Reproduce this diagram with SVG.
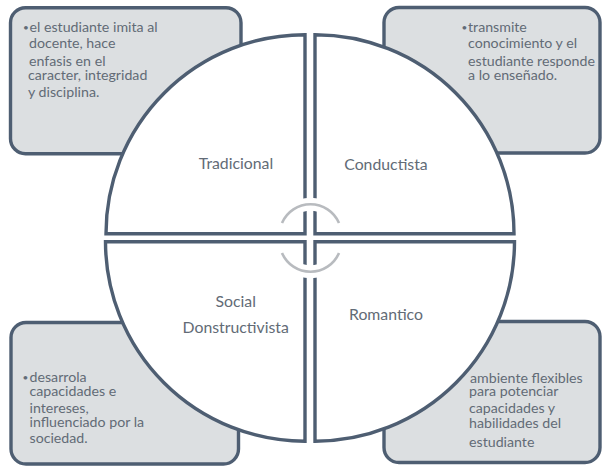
<svg xmlns="http://www.w3.org/2000/svg" width="603" height="468" viewBox="0 0 603 468">
<style>
.box{fill:#dcdfe1;stroke:#4e5e72;stroke-width:3.4}
.quad{fill:#ffffff;stroke:#4e5e72;stroke-width:3.4;stroke-linejoin:miter}
.txt{font-family:Lato,"Open Sans",sans-serif;font-size:14.2px;fill:#626b76}
.bul{font-size:10px}
.lbl{font-family:Lato,"Open Sans",sans-serif;font-size:15.8px;fill:#626b76;text-anchor:middle}
.band{fill:none;stroke:#ffffff;stroke-width:13}
.arc{fill:none;stroke:#b8bbbf;stroke-width:2.6}
</style>
<rect width="603" height="468" fill="#ffffff"/>
<g id="box-tradicional">
<rect class="box" x="10.5" y="7.7" width="230.5" height="146" rx="15"/>
<text class="txt"><tspan class="bul" x="23" y="30.5">•</tspan><tspan x="29.5" y="31.7">el estudiante imita al</tspan><tspan x="29" y="47.7">docente, hace</tspan><tspan x="29" y="65.7">enfasis en el</tspan><tspan x="28" y="80">caracter, integridad</tspan><tspan x="28" y="96.7">y disciplina.</tspan></text>
</g>
<g id="box-conductista">
<rect class="box" x="384" y="7.5" width="216" height="145.5" rx="15"/>
<text class="txt"><tspan class="bul" x="461.5" y="30.5">•</tspan><tspan x="468" y="31.7">transmite</tspan><tspan x="468" y="47.7">conocimiento y el</tspan><tspan x="468" y="65.7">estudiante responde</tspan><tspan x="468" y="80">a lo enseñado.</tspan></text>
</g>
<g id="box-social">
<rect class="box" x="11" y="322.5" width="227.5" height="141.5" rx="15"/>
<text class="txt"><tspan class="bul" x="22.5" y="380.5">•</tspan><tspan x="29.5" y="381.7">desarrola</tspan><tspan x="29.5" y="396">capacidades e</tspan><tspan x="29.5" y="412.7">intereses,</tspan><tspan x="29.5" y="426.7">influenciado por la</tspan><tspan x="29.5" y="442.7">sociedad.</tspan></text>
</g>
<g id="box-romantico">
<rect class="box" x="384" y="321.5" width="216" height="141" rx="15"/>
<text class="txt"><tspan x="470" y="382.7">ambiente flexibles</tspan><tspan x="469" y="396">para potenciar</tspan><tspan x="469" y="412.7">capacidades y</tspan><tspan x="469" y="428.3">habilidades del</tspan><tspan x="469" y="446.7">estudiante</tspan></text>
</g>
<g id="quad-tradicional">
<path class="quad" d="M305 233.7 H106 A199 199 0 0 1 305 34.7 Z"/>
<text class="lbl" x="236" y="169.3">Tradicional</text>
</g>
<g id="quad-conductista">
<path class="quad" d="M315 233.7 V34.7 A199 199 0 0 1 514 233.7 Z"/>
<text class="lbl" x="386" y="170">Conductista</text>
</g>
<g id="quad-social">
<path class="quad" d="M305 241.7 V441.2 A199.5 199.5 0 0 1 105.5 241.7 Z"/>
<text class="lbl" x="235.7" y="307">Social</text>
<text class="lbl" x="235.7" y="333.3">Donstructivista</text>
</g>
<g id="quad-romantico">
<path class="quad" d="M315 241.7 H514.5 A199.5 199.5 0 0 1 315 441.2 Z"/>
<text class="lbl" x="386" y="320">Romantico</text>
</g>
<g id="connectors">
<path class="band" d="M282 223 A31 31 0 0 1 339 223"/>
<path class="band" d="M282 253 A31 31 0 0 0 339 253"/>
<path class="arc" d="M282 223 A31 31 0 0 1 339 223"/>
<path class="arc" d="M282 253 A31 31 0 0 0 339 253"/>
</g>
</svg>
